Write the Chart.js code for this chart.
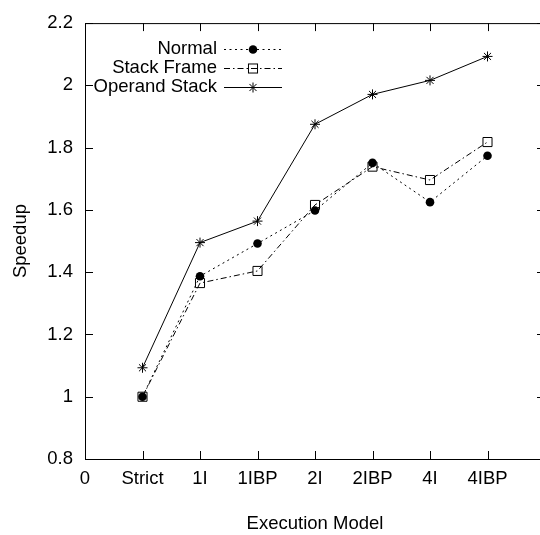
<!DOCTYPE html>
<html>
<head>
<meta charset="utf-8">
<script src="https://cdn.jsdelivr.net/npm/chart.js@4"></script>
<style>
  html, body { margin: 0; padding: 0; background: #fff; overflow: hidden; }
</style>
</head>
<body>
<canvas id="speedupChart" width="540" height="535"></canvas>
<script>
// Ausführungsmodelle (x = 1..7), Achse läuft von 0 bis 8
const models = ['Strict', '1I', '1IBP', '2I', '2IBP', '4I', '4IBP'];
const xTickLabels = ['0', 'Strict', '1I', '1IBP', '2I', '2IBP', '4I', '4IBP', ''];

const normal = [1.0, 1.387, 1.492, 1.598, 1.751, 1.625, 1.774];
const stackFrame = [1.0, 1.365, 1.404, 1.616, 1.739, 1.696, 1.818];
const operandStack = [1.093, 1.495, 1.564, 1.875, 1.971, 2.016, 2.093];

const FONT = { family: '"Liberation Sans", Arial, sans-serif', size: 18.5 };

function toPoints(values) {
    return values.map((v, i) => ({ x: i + 1, y: v }));
}

function drawMarker(ctx, style, x, y, r) {
    ctx.beginPath();
    if (style === 'circle') {
        ctx.arc(x, y, r, 0, Math.PI * 2);
        ctx.fill();
    } else if (style === 'rect') {
        const h = r * Math.SQRT1_2;
        ctx.strokeRect(x - h, y - h, h * 2, h * 2);
    } else {
        const d = r * Math.SQRT1_2;
        ctx.moveTo(x - r, y); ctx.lineTo(x + r, y);
        ctx.moveTo(x, y - r); ctx.lineTo(x, y + r);
        ctx.moveTo(x - d, y - d); ctx.lineTo(x + d, y + d);
        ctx.moveTo(x - d, y + d); ctx.lineTo(x + d, y - d);
        ctx.stroke();
    }
}

// Plotbereich rechts über den Bildrand hinaus verlängern (x = 8 liegt bei ca. 545 px)
const widenArea = {
    id: 'widenArea',
    afterLayout(chart) {
        const x = chart.scales.x;
        const right = 545;
        chart.chartArea.right = right;
        chart.chartArea.width = right - chart.chartArea.left;
        x.right = right;
        x.width = right - x.left;
        x.configure();
    }
};

// Rahmen mit nach innen zeigenden Ticks (wie gnuplot)
const frameTicks = {
    id: 'frameTicks',
    afterDraw(chart) {
        const { ctx, chartArea: a, scales: { x, y } } = chart;
        ctx.save();
        ctx.strokeStyle = '#000';
        ctx.lineWidth = 1;
        ctx.setLineDash([]);
        ctx.strokeRect(a.left + 0.5, a.top + 0.5, a.right - a.left, a.bottom - a.top);
        ctx.beginPath();
        x.ticks.forEach(t => {
            const px = Math.round(x.getPixelForValue(t.value)) + 0.5;
            ctx.moveTo(px, a.bottom); ctx.lineTo(px, a.bottom - 8);
            ctx.moveTo(px, a.top); ctx.lineTo(px, a.top + 8);
        });
        y.ticks.forEach(t => {
            const py = Math.round(y.getPixelForValue(t.value)) + 0.5;
            ctx.moveTo(a.left, py); ctx.lineTo(a.left + 8, py);
            ctx.moveTo(a.right, py); ctx.lineTo(a.right - 8, py);
        });
        ctx.stroke();
        ctx.restore();
    }
};

// Legende: Text rechtsbündig, Linienmuster rechts daneben
const gnuLegend = {
    id: 'gnuLegend',
    afterDraw(chart) {
        const ctx = chart.ctx;
        ctx.save();
        ctx.font = FONT.size + 'px ' + FONT.family;
        ctx.textAlign = 'right';
        ctx.textBaseline = 'middle';
        chart.data.datasets.forEach((ds, i) => {
            const yy = 49 + i * 18.8;
            ctx.fillStyle = '#000';
            ctx.fillText(ds.label, 217, yy);
            ctx.strokeStyle = '#000';
            ctx.lineWidth = 1;
            ctx.setLineDash(ds.borderDash || []);
            ctx.beginPath();
            ctx.moveTo(224, Math.round(yy) + 0.5);
            ctx.lineTo(282, Math.round(yy) + 0.5);
            ctx.stroke();
            ctx.setLineDash([]);
            drawMarker(ctx, ds.pointStyle, 253, Math.round(yy) + 0.5, ds.pointRadius);
        });
        ctx.restore();
    }
};

const ctx = document.getElementById('speedupChart').getContext('2d');

new Chart(ctx, {
    type: 'line',
    data: {
        datasets: [
            {
                label: 'Normal',
                data: toPoints(normal),
                borderColor: '#000',
                backgroundColor: '#000',
                borderWidth: 1,
                borderDash: [2, 3.5],
                pointStyle: 'circle',
                pointRadius: 4.3,
                pointBorderWidth: 0,
                tension: 0
            },
            {
                label: 'Stack Frame',
                data: toPoints(stackFrame),
                borderColor: '#000',
                backgroundColor: 'rgba(0,0,0,0)',
                borderWidth: 1,
                borderDash: [6, 3, 1.5, 3],
                pointStyle: 'rect',
                pointRadius: 6.4,
                pointBorderWidth: 1,
                tension: 0
            },
            {
                label: 'Operand Stack',
                data: toPoints(operandStack),
                borderColor: '#000',
                backgroundColor: '#000',
                borderWidth: 1,
                pointStyle: 'star',
                pointRadius: 5,
                pointBorderWidth: 1,
                tension: 0
            }
        ]
    },
    options: {
        responsive: false,
        animation: false,
        devicePixelRatio: 1,
        layout: { padding: { left: 0, right: 0, top: 18, bottom: 0 } },
        plugins: {
            legend: { display: false },
            tooltip: { enabled: false }
        },
        scales: {
            x: {
                type: 'linear',
                min: 0,
                max: 8,
                afterFit: s => { s.height = 76; },
                grid: { display: false, drawTicks: false },
                border: { display: false },
                ticks: {
                    stepSize: 1,
                    padding: 9,
                    maxRotation: 0,
                    autoSkip: false,
                    color: '#000',
                    font: FONT,
                    callback: v => xTickLabels[v] ?? ''
                },
                title: {
                    display: true,
                    text: 'Execution Model',
                    color: '#000',
                    font: FONT,
                    padding: { top: 0, bottom: 0 }
                }
            },
            y: {
                min: 0.8,
                max: 2.2,
                afterFit: s => { s.width = 85; },
                grid: { display: false, drawTicks: false },
                border: { display: false },
                ticks: {
                    stepSize: 0.2,
                    padding: 12,
                    color: '#000',
                    font: FONT,
                    callback: v => String(Number(v.toFixed(1)))
                },
                title: {
                    display: true,
                    text: 'Speedup',
                    color: '#000',
                    font: FONT,
                    padding: { top: 10, bottom: 0 }
                }
            }
        }
    },
    plugins: [widenArea, frameTicks, gnuLegend]
});
</script>
</body>
</html>
